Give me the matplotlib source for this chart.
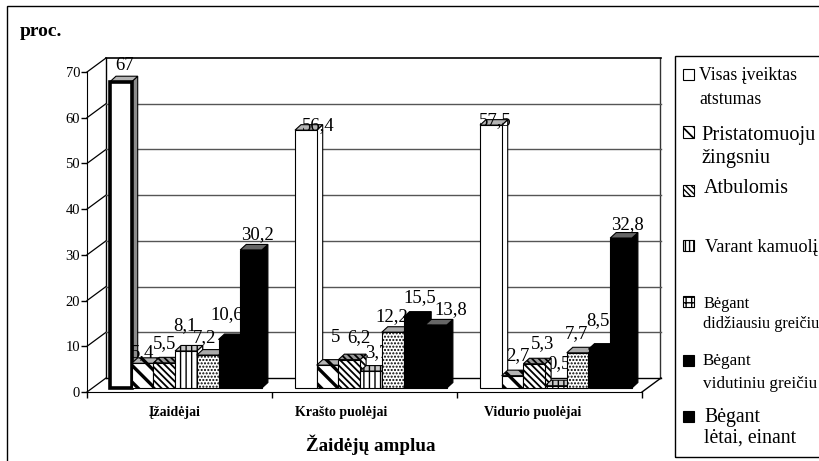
import matplotlib
matplotlib.use('Agg')
import matplotlib.pyplot as plt
from matplotlib.patches import Rectangle

plt.rcParams['font.family'] = ['Liberation Serif', 'DejaVu Serif']

W, H = 819, 461

groups = ['Įžaidėjai', 'Krašto puolėjai', 'Vidurio puolėjai']
series = ['Visas įveiktas\natstumas', 'Pristatomuoju\nžingsniu', 'Atbulomis', 'Varant kamuolį',
          'Bėgant\ndidžiausiu greičiu', 'Bėgant\nvidutiniu greičiu', 'Bėgant\nlėtai, einant']
visas = [67, 56.4, 57.5]
pristatomuoju = [5.4, 5, 2.7]
atbulomis = [5.5, 6.2, 5.3]
varant = [8.1, 3.7, 0.5]
didziausiu = [7.2, 12.2, 7.7]
vidutiniu = [10.6, 15.5, 8.5]
letai = [30.2, 13.8, 32.8]
values = [visas, pristatomuoju, atbulomis, varant, didziausiu, vidutiniu, letai]
y_ticks = [0, 10, 20, 30, 40, 50, 60, 70]

# label nudges in pixels from top centre of the front face (series, then group)
nudge = [[(4, 12), (12, 0), (4, 0)],
         [(0, 6), (8, 23), (5, 16)],
         [(0, 15), (10, 18), (8, 16)],
         [(-1, 21), (6, 14), (3, 18)],
         [(-3, 13), (-1, 11), (-1, 15)],
         [(-3, 20), (5, 15), (-1, 24)],
         [(6, 11), (15, 11), (6, 9)]]

faces = ['white', 'white', 'white', 'white', 'white', 'black', 'black']
hatches = [None, '\\\\', '\\\\\\\\\\', '|||', '.....', None, None]
hatch_lw = [1.0, 2.4, 1.3, 1.0, 1.0, 1.0, 1.0]
tops = ['#b4b4b4', '#b4b4b4', '#999999', '#c8c8c8', '#aaaaaa', 'black', '#666666']

fig = plt.figure(figsize=(W / 100, H / 100), dpi=100)
ax = fig.add_axes([87 / W, (H - 392) / H, 555 / W, 320 / H])
ax.set_xlim(0, 3)
ax.set_ylim(0, 70)
ax.patch.set_visible(False)

PX = 3 / 555     # one pixel in x data units
PY = 70 / 320    # one pixel in y data units
wall_x, wall_y = 19 * PX, 14 * PY

# outer frame and legend box
fig.add_artist(Rectangle((7 / W, -0.02), 1, (H - 6) / H + 0.02, transform=fig.transFigure,
                         fc='none', ec='black', lw=1))
fig.add_artist(Rectangle((675 / W, (H - 457) / H), 1, 401 / H, transform=fig.transFigure,
                         fc='none', ec='black', lw=1))

# 3d box: walls, floor, gridlines
ax.plot([wall_x, wall_x], [wall_y, 70 + wall_y], color='black', lw=1, clip_on=False, zorder=1)
ax.plot([3 + wall_x - PX, 3 + wall_x - PX], [wall_y, 70 + wall_y], color='#333333', lw=1, clip_on=False, zorder=1)
ax.plot([wall_x, 3 + wall_x], [70 + wall_y, 70 + wall_y], color='black', lw=1.2, clip_on=False, zorder=1)
ax.plot([wall_x, 3 + wall_x], [wall_y, wall_y], color='black', lw=1, clip_on=False, zorder=1)
ax.plot([3, 3 + wall_x], [0, wall_y], color='black', lw=1, clip_on=False, zorder=1)
for t in y_ticks:
    ax.plot([0, wall_x], [t, t + wall_y], color='black', lw=0.9, clip_on=False, zorder=1)
    if 0 < t < 70:
        ax.plot([wall_x, 3 + wall_x], [t + wall_y, t + wall_y], color='#555555', lw=1, clip_on=False, zorder=1)

# bars, left to right so later bars cover earlier labels
bar_w = 21.7 * PX
base = 4 * PY
dep_x, dep_y = 6 * PX, 5.5 * PY
for g in range(3):
    for k in range(7):
        plt.rcParams['hatch.linewidth'] = hatch_lw[k]
        v = values[k][g]
        x0 = g + 23 * PX + k * bar_w
        x1 = x0 + bar_w
        top = base + v
        z = 3 + g * 10 + k
        lw = 0.8
        side_c = faces[k]
        if k == 0 and g == 0:
            lw = 2.6
            side_c = '#8c8c8c'
        ax.fill([x1, x1 + dep_x, x1 + dep_x, x1], [base, base + dep_y, top + dep_y, top],
                facecolor=side_c, edgecolor='black', lw=0.8, hatch=hatches[k], clip_on=False, zorder=z)
        ax.fill([x0, x0 + dep_x, x1 + dep_x, x1], [top, top + dep_y, top + dep_y, top],
                facecolor=tops[k], edgecolor='black', lw=0.8, hatch=hatches[k] if k in (1, 2, 3) else None,
                clip_on=False, zorder=z)
        ax.bar(x0, v, width=bar_w, bottom=base, align='edge', color=faces[k], edgecolor='black',
               linewidth=lw, hatch=hatches[k], clip_on=False, zorder=z)
        dx, dy = nudge[k][g]
        # the 0,5 label sits behind the neighbouring bar in the original
        label_z = z - 1.5 if (k, g) == (3, 2) else z + 0.5
        ax.text((x0 + x1) / 2 + dx * PX, top + dy * PY, str(v).replace('.', ','), ha='center', va='baseline',
                fontsize=13.5, clip_on=False, zorder=label_z)

# axes
for s in ['top', 'right']:
    ax.spines[s].set_visible(False)
ax.set_yticks(y_ticks)
ax.tick_params(axis='y', length=4, width=1, pad=1, labelsize=10.5)
ax.set_xticks([0, 1, 2, 3])
ax.set_xticklabels([])
ax.tick_params(axis='x', which='major', length=4, width=1)
ax.set_xticks([0.476, 1.373, 2.41], minor=True)
ax.set_xticklabels(groups, minor=True, fontsize=10, fontweight='bold')
ax.tick_params(axis='x', which='minor', length=0, pad=10)

fig.text(20 / W, (H - 36) / H, 'proc.', fontsize=14, fontweight='bold', va='baseline')
fig.text(371 / W, (H - 451) / H, 'Žaidėjų amplua', fontsize=13.7, fontweight='bold', ha='center', va='baseline')

# legend, hand placed like the original
leg_x = [699, 701, 704, 705, 703, 703, 704]
leg_base = [80, 140, 193, 252, 308, 365, 422]
leg_gap = [24, 23, 0, 0, 20, 23, 21]
leg_fs = [12.8, 14.7, 14.5, 13.2, 11.7, 12.3, 14.2]
sw_y = [75, 132, 190, 246, 301, 360, 416]
sw_hatches = [None, '\\\\\\', '\\\\\\\\\\\\', '||||', '|||---', None, None]
for k, label in enumerate(series):
    plt.rcParams['hatch.linewidth'] = 1.3 if k == 1 else 1.0
    fig.add_artist(Rectangle((683 / W, (H - sw_y[k] - 5.5) / H), 11 / W, 11 / H, transform=fig.transFigure,
                             fc=faces[k], ec='black', lw=0.8, hatch=sw_hatches[k]))
    for i, line in enumerate(label.split('\n')):
        fig.text(leg_x[k] / W, (H - leg_base[k] - i * leg_gap[k]) / H, line, fontsize=leg_fs[k], va='baseline')

fig.savefig('out.png', dpi=100)
